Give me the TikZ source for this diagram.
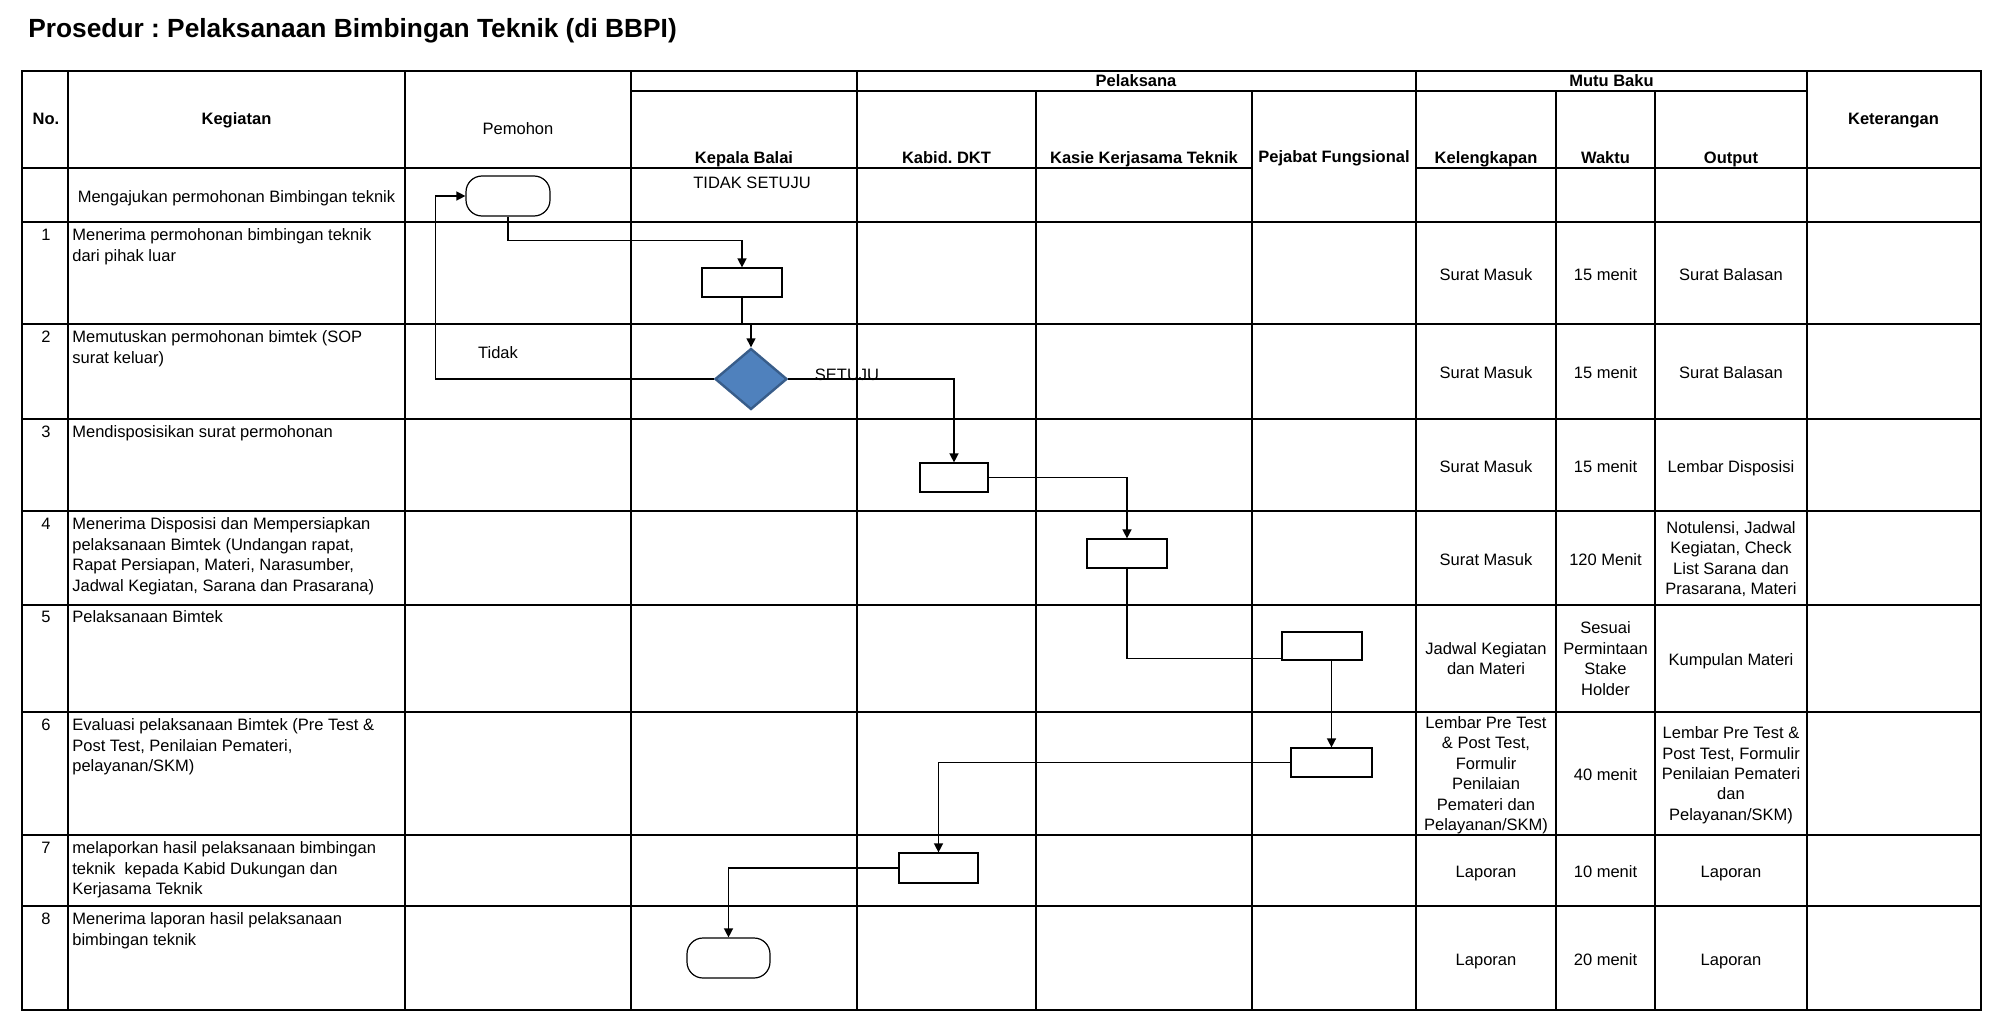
\documentclass[tikz,border=0pt]{standalone}
\usepackage{fontspec}
\setmainfont{Liberation Sans}
\usetikzlibrary{shapes.geometric,arrows.meta}
\definecolor{decfill}{HTML}{4F81BD}
\definecolor{decline}{HTML}{385D8A}
\frenchspacing
\begin{document}
\begin{tikzpicture}[x=0.5pt,y=-0.5pt,
  grid/.style={line width=1.1pt,black},
  txt/.style={font=\fontsize{8.25pt}{10.2pt}\selectfont,inner sep=0pt},
  hdr/.style={font=\fontsize{8.25pt}{10.2pt}\selectfont\bfseries,inner sep=0pt},
  cell/.style={txt,align=center,execute at begin node=\strut,execute at end node=\strut},
  keg/.style={txt,align=left,anchor=north west},
  num/.style={txt,anchor=north},
  proc/.style={draw,line width=0.6pt,rectangle,inner sep=0pt,minimum width=40pt,minimum height=14.5pt},
  term/.style={draw,line width=0.6pt,rectangle,rounded corners=8pt,inner sep=0pt,minimum width=42pt,minimum height=20pt},
  dec/.style={diamond,draw=decline,fill=decfill,line width=1.2pt,inner sep=0pt,minimum width=36pt,minimum height=30.5pt},
  conn/.style={line width=0.7pt,black},
  arr/.style={conn,-{Triangle[length=4.5pt,width=4.5pt]}}
]
\useasboundingbox (0,0) rectangle (2015,1033);

% title
\node[anchor=base west,font=\fontsize{13.15pt}{15pt}\selectfont\bfseries,inner sep=0pt] (title) at (28,38) {Prosedur : Pelaksanaan Bimbingan Teknik (di BBPI)};

% grid
\draw[grid] (22,71) rectangle (1981,1010);
\foreach \y in {222,324,419,511,605,712,835,906} \draw[grid] (22,\y) -- (1981,\y);
\draw[grid] (22,168) -- (1252,168);
\draw[grid] (1416,168) -- (1981,168);
\draw[grid] (631,91) -- (1807,91);
\foreach \x in {68,405,631,857,1416,1807} \draw[grid] (\x,71) -- (\x,1010);
\foreach \x in {1036,1252,1556,1655} \draw[grid] (\x,91) -- (\x,1010);

% header
\node[hdr,anchor=base] (hNo) at (46,124) {No.};
\node[hdr,anchor=base] (hKeg) at (236.5,124) {Kegiatan};
\node[txt,anchor=base] (hPem) at (518,134) {Pemohon};
\node[hdr,anchor=base] (hPel) at (1136,86) {Pelaksana};
\node[hdr,anchor=base] (hMutu) at (1611.5,86) {Mutu Baku};
\node[hdr,anchor=base] (hKet) at (1893.5,124) {Keterangan};
\node[hdr,anchor=base] (hKB) at (744,163) {Kepala Balai};
\node[hdr,anchor=base] (hKD) at (946.5,163) {Kabid. DKT};
\node[hdr,anchor=base] (hKK) at (1144,163) {Kasie Kerjasama Teknik};
\node[hdr,anchor=base] (hPF) at (1334,162) {Pejabat Fungsional};
\node[hdr,anchor=base] (hKel) at (1486,163) {Kelengkapan};
\node[hdr,anchor=base] (hWak) at (1605.5,163) {Waktu};
\node[hdr,anchor=base] (hOut) at (1731,163) {Output};

% row 0
\node[txt,anchor=base] (k0) at (236.5,202) {Mengajukan permohonan Bimbingan teknik};

% numbers
\node[num] (n1) at (46,228.5) {1};
\node[num] (n2) at (46,330.5) {2};
\node[num] (n3) at (46,425.5) {3};
\node[num] (n4) at (46,517.5) {4};
\node[num] (n5) at (46,610.5) {5};
\node[num] (n6) at (46,718.5) {6};
\node[num] (n7) at (46,841.5) {7};
\node[num] (n8) at (46,912.5) {8};

% kegiatan
\node[keg] (k1) at (72,228.5) {Menerima permohonan bimbingan teknik\\dari pihak luar};
\node[keg] (k2) at (72,330.5) {Memutuskan permohonan bimtek (SOP\\surat keluar)};
\node[keg] (k3) at (72,425.5) {Mendisposisikan surat permohonan};
\node[keg] (k4) at (72,517.5) {Menerima Disposisi dan Mempersiapkan\\pelaksanaan Bimtek (Undangan rapat,\\Rapat Persiapan, Materi, Narasumber,\\Jadwal Kegiatan, Sarana dan Prasarana)};
\node[keg] (k5) at (72,610.5) {Pelaksanaan Bimtek};
\node[keg] (k6) at (72,718.5) {Evaluasi pelaksanaan Bimtek (Pre Test \&\\Post Test, Penilaian Pemateri,\\pelayanan/SKM)};
\node[keg] (k7) at (72,841.5) {melaporkan hasil pelaksanaan bimbingan\\teknik\ \ kepada Kabid Dukungan dan\\Kerjasama Teknik};
\node[keg] (k8) at (72,912.5) {Menerima laporan hasil pelaksanaan\\bimbingan teknik};

% mutu baku
\node[cell] (m1a) at (1486,276) {Surat Masuk};
\node[cell] (m1b) at (1605.5,276) {15 menit};
\node[cell] (m1c) at (1731,276) {Surat Balasan};
\node[cell] (m2a) at (1486,374.5) {Surat Masuk};
\node[cell] (m2b) at (1605.5,374.5) {15 menit};
\node[cell] (m2c) at (1731,374.5) {Surat Balasan};
\node[cell] (m3a) at (1486,468) {Surat Masuk};
\node[cell] (m3b) at (1605.5,468) {15 menit};
\node[cell] (m3c) at (1731,468) {Lembar Disposisi};
\node[cell] (m4a) at (1486,561) {Surat Masuk};
\node[cell] (m4b) at (1605.5,561) {120 Menit};
\node[cell] (m4c) at (1731,561) {Notulensi, Jadwal\\Kegiatan, Check\\List Sarana dan\\Prasarana, Materi};
\node[cell] (m5a) at (1486,661.5) {Jadwal Kegiatan\\dan Materi};
\node[cell] (m5b) at (1605.5,661.5) {Sesuai\\Permintaan\\Stake\\Holder};
\node[cell] (m5c) at (1731,661.5) {Kumpulan Materi};
\node[cell] (m6a) at (1486,776.5) {Lembar Pre Test\\\& Post Test,\\Formulir\\Penilaian\\Pemateri dan\\Pelayanan/SKM)};
\node[cell] (m6b) at (1605.5,776.5) {40 menit};
\node[cell] (m6c) at (1731,776.5) {Lembar Pre Test \&\\Post Test, Formulir\\Penilaian Pemateri\\dan\\Pelayanan/SKM)};
\node[cell] (m7a) at (1486,873.5) {Laporan};
\node[cell] (m7b) at (1605.5,873.5) {10 menit};
\node[cell] (m7c) at (1731,873.5) {Laporan};
\node[cell] (m8a) at (1486,961) {Laporan};
\node[cell] (m8b) at (1605.5,961) {20 menit};
\node[cell] (m8c) at (1731,961) {Laporan};

% flow shapes
\node[term] (T1) at (508,196) {};
\node[proc] (B1) at (742,282.5) {};
\node[dec] (D) at (751,379) {};
\node[proc,minimum width=34pt] (B2) at (954,477.5) {};
\node[proc] (B3) at (1127,553.5) {};
\node[proc,minimum height=14pt] (B4) at (1322,646) {};
\node[proc,minimum width=40.5pt] (B5) at (1331.5,762.5) {};
\node[proc,minimum width=39.5pt,minimum height=15pt] (B6) at (938.5,868) {};
\node[term,minimum width=41.5pt] (T2) at (728.5,958) {};

% labels
\node[txt,anchor=base] (lTS) at (752,188) {TIDAK SETUJU};
\node[txt,anchor=base] (lT) at (498,358) {Tidak};
\node[txt,anchor=base] (lS) at (847,380) {SETUJU};

% connectors
\draw[arr] (T1.south) -- ++(0,24) -| (B1.north);
\draw[arr] (B1.south) -- ++(0,26) -| (D.north);
\draw[arr] (D.west) -| ([xshift=-15pt]T1.west) -- (T1.west);
\draw[arr] (D.east) -| (B2.north);
\draw[arr] (B2.east) -| (B3.north);
\draw[conn] (B3.south) |- ([yshift=1pt]B4.south west);
\draw[arr] (B5.north |- B4.south) -- (B5.north);
\draw[arr] (B5.west) -| (B6.north);
\draw[arr] (B6.west) -| (T2.north);
\end{tikzpicture}
\end{document}
